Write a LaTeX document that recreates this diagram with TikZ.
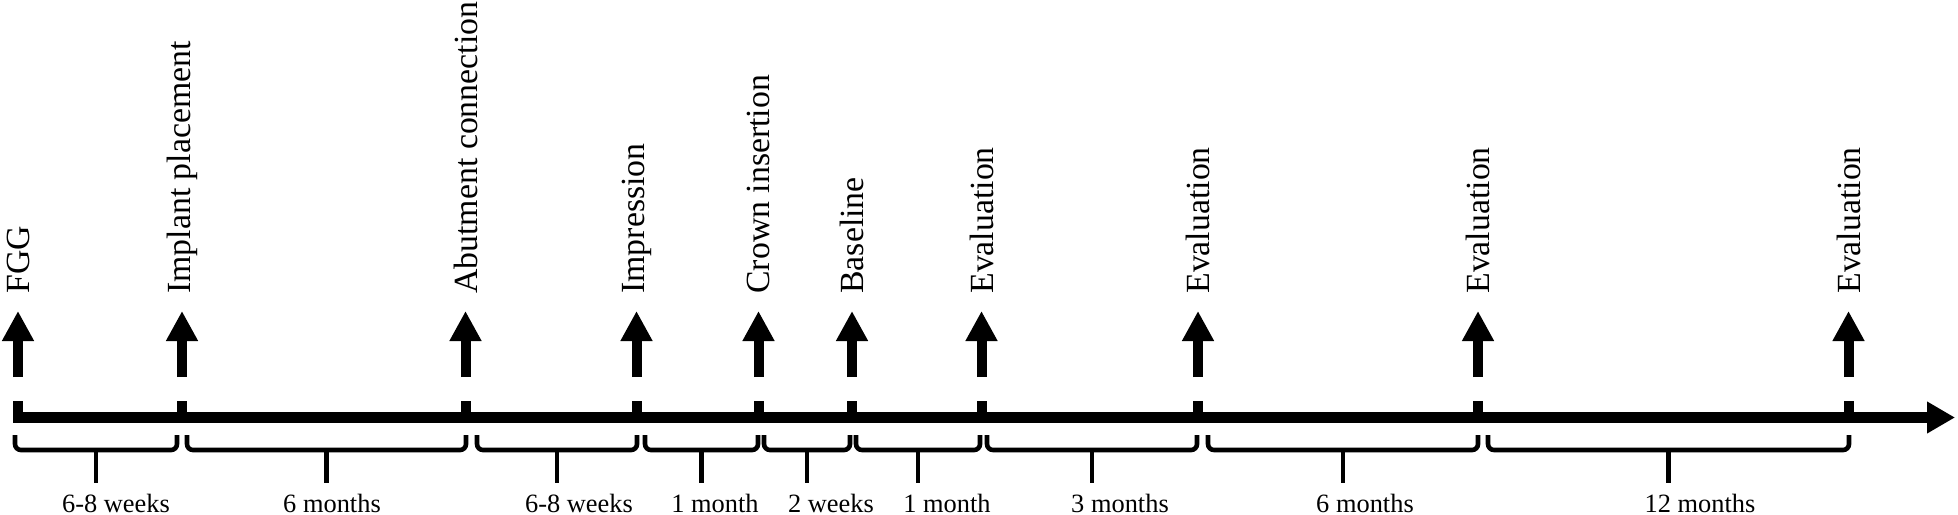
\documentclass[tikz,border=0pt]{standalone}
\usepackage{fontspec}
\setmainfont{Liberation Serif}
\usetikzlibrary{arrows.meta}

\begin{document}
\begin{tikzpicture}[x=0.5pt,y=-0.5pt,
  event/.style={rotate=90,anchor=west,inner sep=0pt,
    font=\fontsize{16.9}{18}\selectfont},
  span/.style={anchor=base,inner sep=0pt,
    font=\fontsize{13.2}{15}\selectfont},
  uparrow/.style={line width=5pt,-{Triangle[width=15pt,length=15pt]}},
  timeline/.style={line width=5.5pt,-{Triangle[width=15pt,length=14pt]}},
  brace/.style={line width=2.3pt,rounded corners=3pt}]
  \useasboundingbox (0,0) rectangle (1958,514);
  % time axis
  \coordinate (start) at (13,417.5);
  \coordinate (end) at (1955,417.5);
  \draw[timeline] (start) -- (end);
  % events
  \foreach \x/\name/\txt in {18/fgg/FGG, 182/implant/Implant placement,
      465.5/abutment/Abutment connection, 636.5/impression/Impression,
      758.5/crown/Crown insertion, 852/baseline/Baseline,
      981.5/evala/Evaluation, 1198/evalb/Evaluation,
      1478/evalc/Evaluation, 1848.5/evald/Evaluation} {
    \fill (\x-5,401) rectangle (\x+5,417);
    \coordinate (\name-base) at (\x,377);
    \coordinate (\name-tip) at (\x,311);
    \draw[uparrow] (\name-base) -- (\name-tip);
    \node[event] (\name) at (\x,294) {\txt};
  }
  % intervals
  \foreach \a/\b/\lx/\txt [count=\i] in {15/177/116/6-8 weeks,
      187/466/332/6 months, 477/637/579/6-8 weeks, 645/758/715/1 month,
      764/850/831/2 weeks, 856/980/947/1 month, 987/1197/1120/3 months,
      1208/1478/1365/6 months, 1488/1849/1700/12 months} {
    \coordinate (gap\i-l) at (\a,450);
    \coordinate (gap\i-r) at (\b,450);
    \coordinate (gap\i-m) at ({(\a+\b)/2},450);
    \coordinate (gap\i-s) at ({(\a+\b)/2},483);
    \draw[brace] (\a,435) -- (gap\i-l) -- (gap\i-r) -- (\b,435);
    \draw[line width=2.3pt] (gap\i-m) -- (gap\i-s);
    \node[span] (gap\i) at (\lx,512) {\txt};
  }
\end{tikzpicture}
\end{document}
